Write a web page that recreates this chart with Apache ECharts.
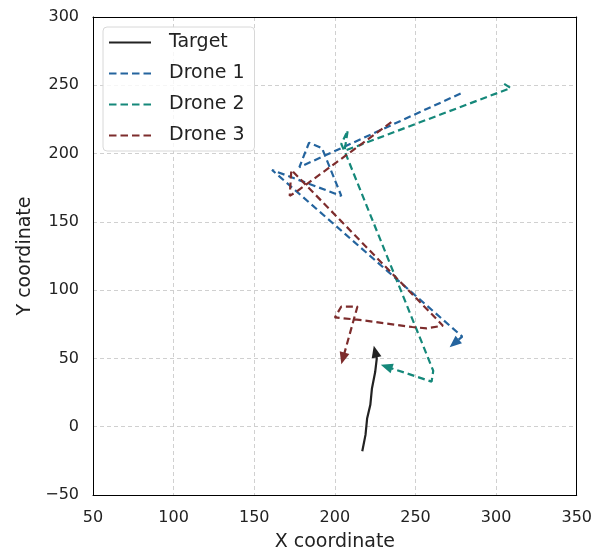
<!DOCTYPE html>
<html>
<head>
<meta charset="utf-8">
<script src="https://cdn.jsdelivr.net/npm/echarts@6/dist/echarts.min.js"></script>
<style>
  html, body { margin: 0; padding: 0; background: #fff; }
  #chart { width: 595px; height: 557px; }
</style>
</head>
<body>
<div id="chart"></div>
<script>
const names = ['Target', 'Drone 1', 'Drone 2', 'Drone 3']
const colors = ['#222222', '#24649e', '#15887a', '#7d2c2c']

const targetX = [217, 219, 220, 222, 223, 225, 226, 225]
const targetY = [-18, -6, 6, 16, 28, 40, 50, 55]
const drone1X = [278, 178, 184, 192, 204, 161, 279, 274]
const drone1Y = [244, 190, 208, 204, 169, 188, 66, 61]
const drone2X = [305, 309, 206, 208, 204, 207, 261, 260, 232]
const drone2Y = [251, 248, 202, 217, 207, 199, 41, 33, 44]
const drone3X = [235, 176, 172, 173, 267, 257, 248, 217, 200, 204, 214, 205]
const drone3Y = [223, 172, 169, 188, 74, 72, 73, 78, 80, 88, 88, 50]

const xTicks = [50, 100, 150, 200, 250, 300, 350]
const yTicks = [-50, 0, 50, 100, 150, 200, 250, 300]

const paths = [
  [targetX, targetY],
  [drone1X, drone1Y],
  [drone2X, drone2Y],
  [drone3X, drone3Y],
].map(([xs, ys]) => xs.map((x, i) => [x, ys[i]]))

const font = 'DejaVu Sans'
const minus = (v) => String(v).replace('-', '\u2212')

// legend icons: solid bar for the target, four dashes for drones
const solidIcon = 'path://M0,0h42v2.2h-42z'
const dashIcon = 'path://M0,0h7.5v2.2h-7.5z M11.5,0h7.5v2.2h-7.5z M23,0h7.5v2.2h-7.5z M34.5,0h7.5v2.2h-7.5z'

const chart = echarts.init(document.getElementById('chart'))

function buildOption(rotations) {
  const lineSeries = paths.map((pts, i) => ({
    name: names[i],
    type: 'line',
    data: pts,
    symbol: 'none',
    z: 3,
    lineStyle: {
      color: colors[i],
      width: 2.2,
      type: i === 0 ? 'solid' : [7, 4],
    },
    itemStyle: { color: colors[i] },
  }))
  // arrow heads at the end of each path
  const arrowSeries = paths.map((pts, i) => ({
    type: 'scatter',
    data: [pts[pts.length - 1]],
    symbol: 'triangle',
    symbolSize: [10, 12],
    symbolRotate: rotations[i],
    itemStyle: { color: colors[i], opacity: 1 },
    z: 4,
    silent: true,
  }))
  const edge = { show: true, onZero: false, lineStyle: { color: '#000', width: 1 } }
  return {
    animation: false,
    textStyle: { fontFamily: font },
    grid: { left: 93, right: 18, top: 17, bottom: 58 },
    legend: {
      data: names.map((n, i) => ({ name: n, icon: i === 0 ? solidIcon : dashIcon })),
      orient: 'vertical',
      left: 103,
      top: 27,
      padding: [6, 10, 6, 6],
      itemWidth: 42,
      itemHeight: 14,
      itemGap: 12,
      backgroundColor: 'rgba(255,255,255,0.8)',
      borderColor: '#d8d8d8',
      borderWidth: 1,
      borderRadius: 4,
      textStyle: { fontFamily: font, fontSize: 19, color: '#222', padding: [0, 0, 0, 13] },
    },
    xAxis: [{
      type: 'value',
      min: xTicks[0],
      max: xTicks[xTicks.length - 1],
      interval: 50,
      name: 'X coordinate',
      nameLocation: 'middle',
      nameGap: 38,
      nameTextStyle: { fontFamily: font, fontSize: 19, color: '#222' },
      axisLine: edge,
      axisTick: { show: false },
      axisLabel: { fontFamily: font, fontSize: 16, color: '#222', margin: 15, formatter: minus },
      splitLine: { lineStyle: { color: '#d0d0d0', type: [4, 3] } },
    }, {
      type: 'value', position: 'top',
      min: xTicks[0], max: xTicks[xTicks.length - 1], interval: 50,
      axisLine: edge, axisTick: { show: false }, axisLabel: { show: false }, splitLine: { show: false },
    }],
    yAxis: [{
      type: 'value',
      min: yTicks[0],
      max: yTicks[yTicks.length - 1],
      interval: 50,
      name: 'Y coordinate',
      nameLocation: 'middle',
      nameGap: 58,
      nameTextStyle: { fontFamily: font, fontSize: 19, color: '#222' },
      axisLine: edge,
      axisTick: { show: false },
      axisLabel: { fontFamily: font, fontSize: 16, color: '#222', margin: 14, formatter: minus },
      splitLine: { lineStyle: { color: '#d0d0d0', type: [4, 3] } },
    }, {
      type: 'value', position: 'right',
      min: yTicks[0], max: yTicks[yTicks.length - 1], interval: 50,
      axisLine: edge, axisTick: { show: false }, axisLabel: { show: false }, splitLine: { show: false },
    }],
    series: lineSeries.concat(arrowSeries),
  }
}

chart.setOption(buildOption([0, 0, 0, 0]))
// point each arrow along the last segment, measured in pixels
const rotations = paths.map((pts) => {
  const a = chart.convertToPixel({ xAxisIndex: 0, yAxisIndex: 0 }, pts[pts.length - 2])
  const b = chart.convertToPixel({ xAxisIndex: 0, yAxisIndex: 0 }, pts[pts.length - 1])
  const dx = b[0] - a[0]
  const dy = b[1] - a[1]
  return Math.atan2(dx, -dy) * -180 / Math.PI
})
chart.setOption(buildOption(rotations))
</script>
</body>
</html>
